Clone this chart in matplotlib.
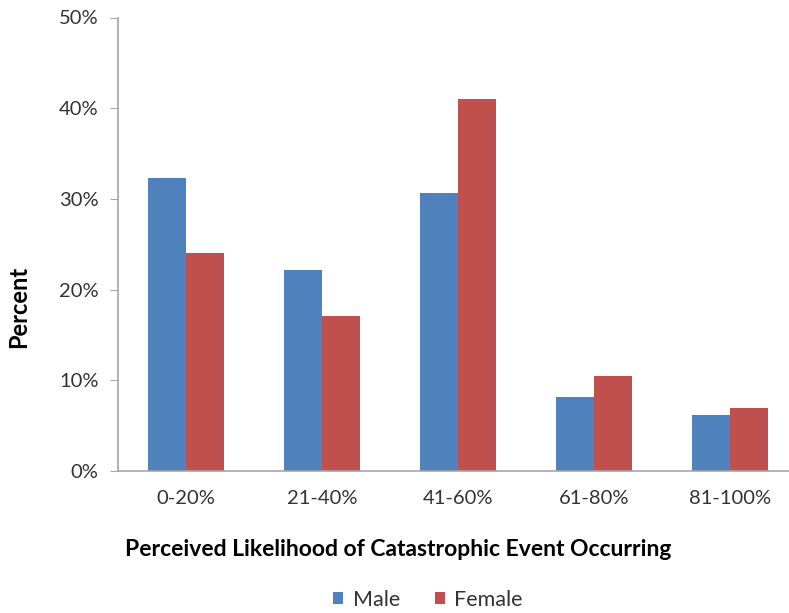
import numpy as np
import matplotlib.pyplot as plt
from matplotlib.ticker import PercentFormatter

plt.rcParams['font.family'] = ['Lato', 'DejaVu Sans']

# Data
categories = ['0-20%', '21-40%', '41-60%', '61-80%', '81-100%']
male = [32.3, 22.2, 30.7, 8.2, 6.2]
female = [24.0, 17.1, 41.0, 10.5, 7.0]

blue = '#4F81BD'
red = '#C0504D'
grey = '#A6A6A6'

fig = plt.figure(figsize=(7.89, 6.13), dpi=100)
ax = fig.add_axes([118 / 789, (613 - 471) / 613, 680 / 789, 453.5 / 613])

x = np.arange(len(categories))
w = 0.283
ax.bar(x - w / 2, male, width=w, color=blue, label='Male')
ax.bar(x + w / 2, female, width=w, color=red, label='Female')

ax.set_xlim(-0.5, len(categories) - 0.5)
ax.set_ylim(0, 50)
ax.set_yticks(np.arange(0, 51, 10))
ax.yaxis.set_major_formatter(PercentFormatter(decimals=0))
ax.set_xticks(x)
ax.set_xticklabels(categories)

for s in ['top', 'right']:
    ax.spines[s].set_visible(False)
for s in ['left', 'bottom']:
    ax.spines[s].set_color(grey)
    ax.spines[s].set_linewidth(1.2)

ax.tick_params(axis='y', length=6, color=grey, labelsize=14.5, labelcolor='#333333', pad=8)
ax.tick_params(axis='x', length=0, labelsize=14.5, labelcolor='#333333', pad=14)

fig.text(19 / 789, 1 - 307 / 613, 'Percent', rotation=90, ha='center', va='center',
         fontsize=17, fontweight='bold')
fig.text(398 / 789, 1 - 550 / 613, 'Perceived Likelihood of Catastrophic Event Occurring',
         ha='center', va='center', fontsize=16.5, fontweight='bold')

fig.legend(loc='center', bbox_to_anchor=(428 / 789, 1 - 600 / 613), ncol=2, frameon=False,
           fontsize=15.5, handlelength=0.47, handleheight=0.47, handletextpad=0.45,
           columnspacing=1.6, labelcolor='#333333')

fig.savefig('out.png', dpi=100)
